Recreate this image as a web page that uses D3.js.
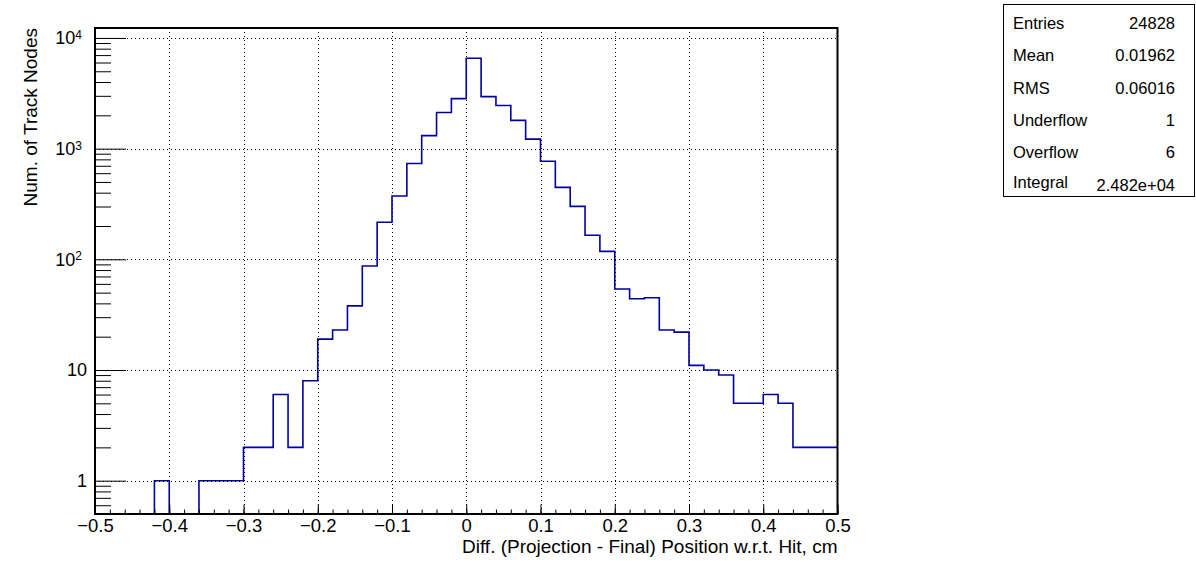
<!DOCTYPE html>
<html>
<head>
<meta charset="utf-8">
<script src="https://cdn.jsdelivr.net/npm/d3@7"></script>
<style>
  html, body { margin: 0; padding: 0; background: #fff; }
  svg text { font-family: "Liberation Sans", Arial, Helvetica, sans-serif; fill: #000; }
</style>
</head>
<body>
<svg id="chart" width="1196" height="572"></svg>
<script>
// ---- data ----
const binLow = [-0.50,-0.48,-0.46,-0.44,-0.42,-0.40,-0.38,-0.36,-0.34,-0.32,
                -0.30,-0.28,-0.26,-0.24,-0.22,-0.20,-0.18,-0.16,-0.14,-0.12,
                -0.10,-0.08,-0.06,-0.04,-0.02, 0.00, 0.02, 0.04, 0.06, 0.08,
                 0.10, 0.12, 0.14, 0.16, 0.18, 0.20, 0.22, 0.24, 0.26, 0.28,
                 0.30, 0.32, 0.34, 0.36, 0.38, 0.40, 0.42, 0.44, 0.46, 0.48];
const binWidth = 0.02;
const counts = [0,0,0,0,1,0,0,1,1,1,
                2,2,6,2,8,19,23,38,87,216,
                373,735,1310,2120,2830,6550,2950,2450,1800,1220,
                768,447,301,165,118,54,44,45,23,22,
                11,10,9,5,5,6,5,2,2,2];
const xTickValues = [-0.5,-0.4,-0.3,-0.2,-0.1,0,0.1,0.2,0.3,0.4,0.5];
const yMajorTicks = [1,10,100,1000,10000];
const statsNames = ["Entries","Mean","RMS","Underflow","Overflow","Integral"];
const statsValues = ["24828","0.01962","0.06016","1","6","2.482e+04"];
const xTitle = "Diff. (Projection - Final) Position w.r.t. Hit, cm";
const yTitle = "Num. of Track Nodes";

// ---- layout ----
const svg = d3.select("#chart");
const L = 95, R = 837.5, T = 28, B = 514;
const x = d3.scaleLinear().domain([-0.5, 0.5]).range([L, R]);
const yMin = 0.5, yMax = 12300;
const y = d3.scaleLog().domain([yMin, yMax]).range([B, T]);

// minor ticks
const xMinor = d3.range(-0.5, 0.5001, 0.02).map(v => +v.toFixed(2));
const yMinor = [];
[0.1,1,10,100,1000].forEach(d => { for (let k=2;k<=9;k++){ const v=d*k; if (v>yMin && v<yMax) yMinor.push(v);} });

// grid
const grid = svg.append("g").attr("stroke","#000").attr("stroke-width",1).attr("stroke-dasharray","1,3");
xTickValues.filter(v => v > -0.5 && v < 0.5).forEach(v => {
  grid.append("line").attr("x1", Math.round(x(v))+0.5).attr("x2", Math.round(x(v))+0.5).attr("y1", T).attr("y2", B);
});
yMajorTicks.forEach(v => {
  grid.append("line").attr("x1", L).attr("x2", R).attr("y1", Math.round(y(v))+0.5).attr("y2", Math.round(y(v))+0.5);
});

// histogram
const pts = [];
binLow.forEach((lo, i) => {
  const v = Math.max(counts[i], yMin);
  pts.push([lo, v]);
  pts.push([lo + binWidth, v]);
});
const line = d3.line().x(d => x(d[0])).y(d => y(d[1]));
svg.append("path").attr("d", line(pts)).attr("fill","none")
   .attr("stroke","#0000a0").attr("stroke-width",1.6);

// x axis
const xMinorAxis = d3.axisBottom(x).tickValues(xMinor).tickSize(-4.5).tickFormat("");
svg.append("g").attr("transform",`translate(0,${B})`).call(xMinorAxis)
   .call(g => g.select(".domain").remove())
   .selectAll("line").attr("stroke","#000");
const xAxis = d3.axisBottom(x).tickValues(xTickValues).tickSizeInner(-9.5).tickSizeOuter(0)
   .tickPadding(5).tickFormat(d3.format(".1~f"));
const gx = svg.append("g").attr("transform",`translate(0,${B})`).call(xAxis);
gx.select(".domain").remove();
gx.selectAll("line").attr("stroke","#000");
gx.selectAll("text").attr("font-size",18.5).attr("font-family","Liberation Sans, Arial, sans-serif")
  .text(d => d === 0 ? "0" : d3.format(".1f")(d).replace("-", "\u2212"));

// y axis
const yMinorAxis = d3.axisLeft(y).tickValues(yMinor).tickSize(-16).tickFormat("");
svg.append("g").attr("transform",`translate(${L},0)`).call(yMinorAxis)
   .call(g => g.select(".domain").remove())
   .selectAll("line").attr("stroke","#000");
const yAxis = d3.axisLeft(y).tickValues(yMajorTicks).tickSizeInner(-31).tickSizeOuter(0).tickPadding(8);
const gy = svg.append("g").attr("transform",`translate(${L},0)`).call(yAxis);
gy.select(".domain").remove();
gy.selectAll("line").attr("stroke","#000");
gy.selectAll("text").attr("font-size",18).attr("font-family","Liberation Sans, Arial, sans-serif")
  .each(function(d){
    const t = d3.select(this);
    t.text(null);
    const e = Math.round(Math.log10(d));
    if (e >= 2) {
      t.attr("dx", "-5");
      t.append("tspan").text("10");
      t.append("tspan").attr("dy","-0.45em").attr("font-size",12).text(String(e));
    } else {
      t.text(String(d));
    }
  });

// frame
svg.append("rect").attr("x",L).attr("y",T).attr("width",R-L).attr("height",B-T)
   .attr("fill","none").attr("stroke","#000").attr("stroke-width",2);

// titles
svg.append("text").attr("x", R).attr("y", 553).attr("text-anchor","end")
   .attr("font-size",19).text(xTitle);
svg.append("text").attr("transform",`translate(37,${T}) rotate(-90)`).attr("text-anchor","end")
   .attr("font-size",19).text(yTitle);

// stats box
const sb = {x:1003.5, y:4.5, w:191, h:192};
svg.append("rect").attr("x",sb.x).attr("y",sb.y).attr("width",sb.w).attr("height",sb.h)
   .attr("fill","#fff").attr("stroke","#000").attr("stroke-width",1);
const rowBase = [29, 61, 94, 126, 158, 188];
statsNames.forEach((n,i) => {
  const yy = rowBase[i];
  svg.append("text").attr("x", 1013).attr("y", yy).attr("font-size",16.5).text(n);
  svg.append("text").attr("x", 1175).attr("y", yy + (i===5?3:0)).attr("text-anchor","end").attr("font-size",16.5).text(statsValues[i]);
});
</script>
</body>
</html>
